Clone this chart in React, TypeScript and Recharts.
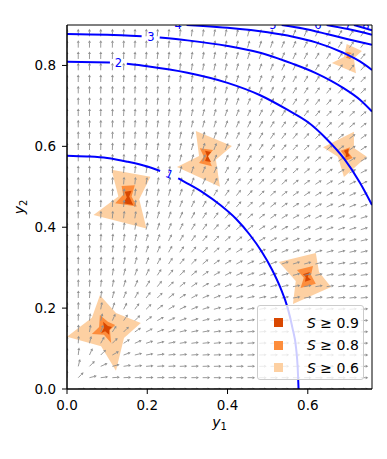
import React from "react";
import { ComposedChart, XAxis, YAxis, Line, Scatter, ReferenceArea } from "recharts";

const FONT = "DejaVu Sans";

const xTicks = [0, 0.2, 0.4, 0.6];
const yTicks = [0, 0.2, 0.4, 0.6, 0.8];

// quiver grid
const gridX = [0, 0.028, 0.056, 0.084, 0.113, 0.141, 0.169, 0.197, 0.225, 0.253, 0.281, 0.31, 0.338, 0.366, 0.394, 0.422, 0.45, 0.479, 0.507, 0.535, 0.563, 0.591, 0.619, 0.647, 0.676, 0.704, 0.732, 0.76];
const gridY = [0, 0.028, 0.056, 0.084, 0.113, 0.141, 0.169, 0.197, 0.225, 0.253, 0.281, 0.309, 0.338, 0.366, 0.394, 0.422, 0.45, 0.478, 0.506, 0.534, 0.563, 0.591, 0.619, 0.647, 0.675, 0.703, 0.731, 0.759, 0.788, 0.816, 0.844, 0.872, 0.9];
// horizontal weight per column, vertical weight per row (arrow slope = v / u)
const flowU = [0, 0.08, 0.32, 0.71, 1.27, 1.98, 2.85, 3.88, 5.07, 6.42, 7.92, 9.59, 11.41, 13.39, 15.53, 17.83, 20.28, 22.9, 25.67, 28.6, 31.69, 34.94, 38.35, 41.91, 45.64, 49.52, 53.56, 57.76];
const flowV = [0, 0.08, 0.32, 0.71, 1.27, 1.98, 2.85, 3.88, 5.06, 6.41, 7.91, 9.57, 11.39, 13.37, 15.5, 17.8, 20.25, 22.86, 25.63, 28.56, 31.64, 34.88, 38.28, 41.84, 45.56, 49.44, 53.47, 57.66, 62.02, 66.52, 71.19, 76.02, 81.0];

// contour lines, split where the inline labels sit
const level1a = [[0, 0.577], [0.05, 0.575], [0.1, 0.571], [0.15, 0.562], [0.2, 0.55], [0.232, 0.539]];
const level1b = [[0.277, 0.521], [0.295, 0.511], [0.34, 0.485], [0.382, 0.455], [0.421, 0.421], [0.455, 0.382], [0.485, 0.34], [0.511, 0.295], [0.532, 0.25], [0.55, 0.2], [0.562, 0.15], [0.571, 0.1], [0.575, 0.05], [0.577, 0]];
const level2a = [[0, 0.809], [0.107, 0.807]];
const level2b = [[0.149, 0.804], [0.2, 0.798], [0.3, 0.782], [0.4, 0.757], [0.48, 0.727], [0.55, 0.69], [0.6, 0.66], [0.645, 0.62], [0.69, 0.57], [0.73, 0.51], [0.76, 0.455]];
const level3a = [[0, 0.878], [0.1, 0.876], [0.186, 0.872]];
const level3b = [[0.231, 0.869], [0.3, 0.862], [0.4, 0.848], [0.5, 0.826], [0.56, 0.805], [0.62, 0.781], [0.687, 0.745], [0.73, 0.715], [0.76, 0.686]];
const level4 = [[0.298, 0.9], [0.4, 0.893], [0.5, 0.882], [0.563, 0.871], [0.62, 0.857], [0.687, 0.832], [0.73, 0.81], [0.76, 0.789]];
const level5 = [[0.535, 0.9], [0.6, 0.889], [0.65, 0.877], [0.7, 0.865], [0.76, 0.851]];
const level6 = [[0.647, 0.9], [0.7, 0.89], [0.76, 0.876]];
const level7 = [[0.715, 0.9], [0.76, 0.887]];

const contourLabels = [
  { x: 0.255, y: 0.531, text: "1", angle: 22 },
  { x: 0.128, y: 0.807, text: "2", angle: 0 },
  { x: 0.209, y: 0.871, text: "3", angle: 0 },
  { x: 0.277, y: 0.9, text: "4", angle: 0 },
  { x: 0.513, y: 0.9, text: "5", angle: 0 },
  { x: 0.625, y: 0.9, text: "6", angle: 0 },
  { x: 0.7, y: 0.9, text: "7", angle: 0 },
  { x: 0.745, y: 0.9, text: "8", angle: 0 },
];

// S >= 0.6 regions
const band60 = [
  [[0, 0.129], [0.062, 0.176], [0.082, 0.232], [0.122, 0.188], [0.184, 0.163], [0.142, 0.126], [0.122, 0.045], [0.085, 0.106]],
  [[0.111, 0.542], [0.208, 0.525], [0.18, 0.469], [0.198, 0.397], [0.066, 0.43], [0.128, 0.476]],
  [[0.321, 0.638], [0.411, 0.601], [0.371, 0.567], [0.381, 0.5], [0.274, 0.549], [0.329, 0.576]],
  [[0.528, 0.314], [0.62, 0.336], [0.628, 0.289], [0.658, 0.252], [0.563, 0.21], [0.57, 0.267]],
  [[0.638, 0.598], [0.715, 0.636], [0.715, 0.596], [0.747, 0.574], [0.69, 0.524], [0.675, 0.574]],
  [[0.697, 0.853], [0.735, 0.836], [0.715, 0.818], [0.72, 0.781], [0.66, 0.806], [0.69, 0.821]],
];
// S >= 0.8 regions
const band80 = [
  [[0.082, 0.183], [0.102, 0.166], [0.12, 0.158], [0.107, 0.146], [0.11, 0.114], [0.092, 0.134], [0.062, 0.136], [0.08, 0.153]],
  [[0.136, 0.502], [0.169, 0.504], [0.161, 0.476], [0.174, 0.451], [0.12, 0.459], [0.14, 0.48]],
  [[0.331, 0.595], [0.364, 0.591], [0.351, 0.574], [0.361, 0.551], [0.329, 0.559], [0.341, 0.574]],
  [[0.573, 0.294], [0.613, 0.304], [0.608, 0.282], [0.62, 0.26], [0.582, 0.25], [0.59, 0.275]],
  [[0.682, 0.589], [0.705, 0.598], [0.702, 0.584], [0.712, 0.571], [0.692, 0.564], [0.692, 0.576]],
  [[0.695, 0.834], [0.71, 0.831], [0.702, 0.826], [0.707, 0.816], [0.695, 0.819], [0.7, 0.826]],
];
// S >= 0.9 regions
const band90 = [
  [[0.09, 0.166], [0.102, 0.156], [0.112, 0.153], [0.105, 0.146], [0.105, 0.134], [0.095, 0.143], [0.085, 0.138], [0.092, 0.151]],
  [[0.144, 0.488], [0.161, 0.49], [0.155, 0.476], [0.165, 0.455], [0.14, 0.459], [0.149, 0.474]],
  [[0.344, 0.589], [0.359, 0.586], [0.351, 0.576], [0.359, 0.561], [0.344, 0.564], [0.349, 0.576]],
  [[0.588, 0.284], [0.605, 0.289], [0.6, 0.277], [0.608, 0.27], [0.593, 0.265], [0.595, 0.277]],
  [[0.69, 0.589], [0.702, 0.594], [0.7, 0.584], [0.705, 0.576], [0.695, 0.573], [0.695, 0.581]],
];

const legendItems = [
  { color: "#d94801", label: "0.9" },
  { color: "#fd8d3c", label: "0.8" },
  { color: "#fdd0a2", label: "0.6" },
];

const toXY = (pts: number[][]) => pts.map(([x, y]) => ({ x, y }));

const arrows = gridY.flatMap((y, j) =>
  gridX.map((x, i) => ({ x, y, u: flowU[i], v: flowV[j] }))
);

const Arrow = (props: any) => {
  const { cx, cy, payload } = props;
  if (!payload || (!payload.u && !payload.v)) return <g />;
  const t = Math.atan2(payload.v, payload.u);
  const c = Math.cos(t);
  const s = Math.sin(t);
  const L = 7.5, H = 2.6, W = 1.5;
  const bx = cx + (L - H) * c;
  const by = cy - (L - H) * s;
  const tx = cx + L * c;
  const ty = cy - L * s;
  return (
    <g>
      <line x1={cx} y1={cy} x2={bx} y2={by} stroke="#8f8f8f" strokeWidth={0.9} />
      <path d={`M${bx + W * s},${by + W * c}L${tx},${ty}L${bx - W * s},${by - W * c}Z`} fill="#8f8f8f" />
    </g>
  );
};

const regionLine = (fill: string) => (p: any) => {
  const pts = p && p.points ? p.points : [];
  if (!pts.length) return <g />;
  const d = pts.map((pt: any, i: number) => `${i ? "L" : "M"}${pt.x},${pt.y}`).join("") + "Z";
  return <path d={d} fill={fill} stroke="none" />;
};

const ContourLabel = (props: any) => {
  const { cx, cy, payload } = props;
  return (
    <text
      x={cx}
      y={cy}
      fill="#0000ff"
      fontSize={11.5}
      fontFamily={FONT}
      textAnchor="middle"
      dominantBaseline="central"
      transform={`rotate(${payload.angle} ${cx} ${cy})`}
    >
      {payload.text}
    </text>
  );
};

const none = () => <g />;

const contours = [level1a, level1b, level2a, level2b, level3a, level3b, level4, level5, level6, level7];

export default function App() {
  return (
    <div style={{ position: "relative", width: 379, height: 451 }}>
      <ComposedChart width={379} height={451} margin={{ top: 17, right: 15, bottom: 30, left: 0 }}>
        <XAxis
          type="number"
          dataKey="x"
          domain={[0, 0.76]}
          allowDataOverflow
          ticks={xTicks}
          tickFormatter={(v: number) => v.toFixed(1)}
          height={40}
          tickSize={5}
          tickMargin={6}
          tick={{ fill: "#000", fontSize: 13.5, fontFamily: FONT }}
          tickLine={{ stroke: "#000" }}
          axisLine={{ stroke: "#000" }}
          label={{
            content: (p: any) => (
              <text x={p.viewBox.x + p.viewBox.width / 2} y={p.viewBox.y + 38} textAnchor="middle" fontFamily={FONT} fontSize={14} fill="#000">
                <tspan fontStyle="italic">y</tspan>
                <tspan fontSize={10} dy={3}>1</tspan>
              </text>
            ),
          }}
        />
        <YAxis
          type="number"
          dataKey="y"
          domain={[0, 0.9]}
          allowDataOverflow
          ticks={yTicks}
          tickFormatter={(v: number) => v.toFixed(1)}
          width={59}
          tickSize={5}
          tickMargin={6}
          tick={{ fill: "#000", fontSize: 13.5, fontFamily: FONT }}
          tickLine={{ stroke: "#000" }}
          axisLine={{ stroke: "#000" }}
          label={{
            content: (p: any) => {
              const x = p.viewBox.x + 16;
              const y = p.viewBox.y + p.viewBox.height / 2;
              return (
                <text x={x} y={y} textAnchor="middle" fontFamily={FONT} fontSize={14} fill="#000" transform={`rotate(-90 ${x} ${y})`}>
                  <tspan fontStyle="italic">y</tspan>
                  <tspan fontSize={10} dy={3}>2</tspan>
                </text>
              );
            },
          }}
        />
        {band60.map((poly, k) => (
          <Scatter key={`a${k}`} data={toXY(poly)} dataKey="y" shape={none} line={regionLine("#fdd0a2")} isAnimationActive={false} zIndex={100} />
        ))}
        {band80.map((poly, k) => (
          <Scatter key={`b${k}`} data={toXY(poly)} dataKey="y" shape={none} line={regionLine("#fd8d3c")} isAnimationActive={false} zIndex={110} />
        ))}
        {band90.map((poly, k) => (
          <Scatter key={`c${k}`} data={toXY(poly)} dataKey="y" shape={none} line={regionLine("#d94801")} isAnimationActive={false} zIndex={120} />
        ))}
        <Scatter data={arrows} dataKey="y" shape={Arrow} isAnimationActive={false} zIndex={200} />
        {contours.map((c, k) => (
          <Line
            key={`l${k}`}
            data={toXY(c)}
            dataKey="y"
            type="monotone"
            stroke="#0000ff"
            strokeWidth={2}
            dot={false}
            activeDot={false}
            isAnimationActive={false}
            zIndex={300}
          />
        ))}
        <Scatter data={contourLabels} dataKey="y" shape={ContourLabel} isAnimationActive={false} zIndex={400} />
        <ReferenceArea x1={0} x2={0.76} y1={0} y2={0.9} fill="none" stroke="#000" strokeWidth={1} zIndex={500} />
      </ComposedChart>
      <div
        style={{
          position: "absolute",
          left: 249,
          top: 297,
          width: 107,
          height: 75,
          boxSizing: "border-box",
          background: "rgba(255,255,255,0.8)",
          border: "1px solid #cccccc",
          borderRadius: 3,
          fontFamily: FONT,
          fontSize: 14,
          color: "#000",
        }}
      >
        {legendItems.map((it, i) => (
          <div key={it.label} style={{ position: "absolute", left: 0, top: 16.7 + i * 22.5 - 10, height: 20, width: "100%" }}>
            <div style={{ position: "absolute", left: 16, top: 5.5, width: 9, height: 9, background: it.color }} />
            <div style={{ position: "absolute", left: 49, top: 0, lineHeight: "20px", whiteSpace: "nowrap" }}>
              <span style={{ fontStyle: "italic" }}>S</span> ≥ {it.label}
            </div>
          </div>
        ))}
      </div>
    </div>
  );
}
